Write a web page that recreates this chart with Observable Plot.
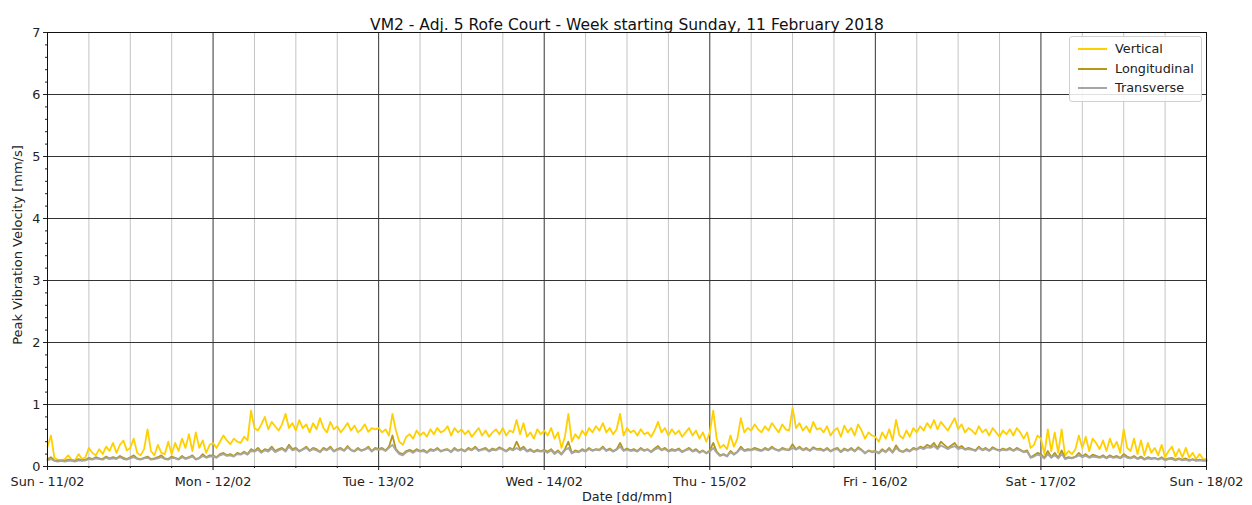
<!DOCTYPE html>
<html><head><meta charset="utf-8">
<script src="https://cdn.jsdelivr.net/npm/d3@7"></script>
<script src="https://cdn.jsdelivr.net/npm/@observablehq/plot@0.6"></script>
<style>
body{margin:0;background:#fff;font-family:"DejaVu Sans",sans-serif}
#wrap{position:relative;width:1252px;height:505px;overflow:hidden}
#legend{position:absolute;left:1069px;top:36px;width:131px;height:64px;border:1px solid #d0d0d0;border-radius:3px;background:rgba(255,255,255,0.85);font-size:12.8px;color:#222}
#legend .row{position:absolute;left:0;height:18px;line-height:18px;white-space:nowrap}
#legend .sw{position:absolute;left:8px;top:8px;width:29px;height:0;border-top-style:solid}
#legend .lb{position:absolute;left:45px;top:0}
#ylab{position:absolute;left:17px;top:245px;transform:translate(-50%,-50%) rotate(-90deg);font-size:13px;white-space:nowrap;color:#222}
</style></head><body><div id="wrap"></div>
<script>
const title = "VM2 - Adj. 5 Rofe Court - Week starting Sunday, 11 February 2018";
const xLabel = "Date [dd/mm]";
const yLabel = "Peak Vibration Velocity [mm/s]";
const seriesNames = ["Vertical", "Longitudinal", "Transverse"];
const seriesColors = ["#ffd000", "#b3981a", "#a6a6a6"];
const dayLabels = ["Sun - 11/02","Mon - 12/02","Tue - 13/02","Wed - 14/02","Thu - 15/02","Fri - 16/02","Sat - 17/02","Sun - 18/02"];
const yTicks = [0,1,2,3,4,5,6,7];
const startUTC = Date.UTC(2018, 1, 11);
const stepMinutes = 30;

// Vertical, 30-min samples from Sun 11/02 00:00 to Sun 18/02 00:00
const vertical = [
// Sun
0.32,0.50,0.14,0.11, 0.10,0.12,0.18,0.11, 0.10,0.20,0.12,0.15, 0.30,0.22,0.18,0.28, 0.20,0.32,0.25,0.38, 0.22,0.35,0.42,0.26,
0.30,0.45,0.22,0.18, 0.28,0.60,0.25,0.18, 0.35,0.22,0.20,0.40, 0.20,0.38,0.25,0.45, 0.30,0.52,0.25,0.55, 0.30,0.42,0.22,0.35,
// Mon
0.38,0.30,0.40,0.50, 0.42,0.36,0.45,0.40, 0.38,0.48,0.42,0.90, 0.62,0.58,0.68,0.80, 0.60,0.72,0.65,0.58, 0.68,0.85,0.62,0.70,
0.58,0.75,0.62,0.68, 0.55,0.70,0.60,0.78, 0.62,0.55,0.72,0.60, 0.65,0.55,0.62,0.70, 0.58,0.66,0.55,0.60, 0.68,0.56,0.62,0.60,
// Tue
0.62,0.55,0.60,0.50, 0.85,0.58,0.40,0.35, 0.48,0.52,0.45,0.58, 0.50,0.55,0.48,0.60, 0.52,0.62,0.55,0.58, 0.65,0.50,0.62,0.55,
0.60,0.52,0.58,0.48, 0.55,0.62,0.50,0.58, 0.48,0.55,0.60,0.52, 0.62,0.50,0.58,0.55, 0.75,0.52,0.70,0.48, 0.55,0.45,0.60,0.52,
// Wed
0.58,0.50,0.62,0.45, 0.55,0.30,0.48,0.85, 0.40,0.52,0.45,0.58, 0.50,0.62,0.55,0.65, 0.58,0.70,0.55,0.62, 0.52,0.60,0.85,0.50,
0.62,0.55,0.58,0.50, 0.60,0.52,0.55,0.48, 0.58,0.72,0.55,0.62, 0.50,0.60,0.52,0.58, 0.48,0.55,0.62,0.50, 0.58,0.45,0.55,0.40,
// Thu
0.55,0.90,0.45,0.30, 0.35,0.28,0.50,0.32, 0.45,0.78,0.55,0.62, 0.58,0.68,0.60,0.55, 0.65,0.58,0.70,0.62, 0.55,0.68,0.60,0.58,
0.95,0.62,0.70,0.58, 0.65,0.55,0.72,0.60, 0.62,0.55,0.65,0.50, 0.58,0.62,0.48,0.66, 0.55,0.62,0.50,0.68, 0.58,0.45,0.55,0.50,
// Fri
0.48,0.40,0.55,0.45, 0.60,0.42,0.75,0.50, 0.45,0.58,0.48,0.62, 0.55,0.65,0.58,0.70, 0.62,0.75,0.60,0.72, 0.65,0.58,0.68,0.78,
0.60,0.68,0.55,0.62, 0.58,0.52,0.65,0.55, 0.60,0.50,0.62,0.55, 0.48,0.58,0.52,0.60, 0.50,0.62,0.55,0.45, 0.55,0.30,0.35,0.50,
// Sat
0.45,0.20,0.60,0.25, 0.55,0.22,0.60,0.18, 0.25,0.20,0.28,0.50, 0.30,0.48,0.25,0.45, 0.38,0.28,0.42,0.25, 0.45,0.30,0.40,0.22,
0.60,0.30,0.25,0.45, 0.20,0.42,0.18,0.38, 0.22,0.30,0.18,0.35, 0.15,0.25,0.32,0.16, 0.28,0.15,0.30,0.14, 0.22,0.12,0.20,0.12,
0.12
];

const longitudinal = [
0.12,0.15,0.10,0.09, 0.10,0.09,0.11,0.10, 0.09,0.12,0.10,0.11, 0.14,0.12,0.15,0.13, 0.12,0.16,0.13,0.15, 0.13,0.17,0.14,0.12,
0.15,0.18,0.13,0.12, 0.14,0.16,0.12,0.13, 0.15,0.18,0.13,0.12, 0.16,0.14,0.12,0.17, 0.13,0.15,0.18,0.12, 0.14,0.20,0.15,0.18,
0.18,0.15,0.20,0.22, 0.18,0.20,0.17,0.22, 0.20,0.24,0.20,0.28, 0.25,0.30,0.24,0.28, 0.26,0.32,0.25,0.28, 0.30,0.26,0.35,0.28,
0.30,0.25,0.28,0.32, 0.26,0.30,0.28,0.24, 0.30,0.27,0.32,0.25, 0.28,0.30,0.26,0.33, 0.27,0.25,0.30,0.26, 0.28,0.32,0.25,0.30,
0.28,0.30,0.26,0.32, 0.50,0.28,0.22,0.20, 0.25,0.27,0.24,0.28, 0.25,0.27,0.23,0.28, 0.26,0.30,0.25,0.27, 0.28,0.24,0.30,0.26,
0.28,0.25,0.30,0.27, 0.32,0.26,0.28,0.30, 0.25,0.29,0.27,0.31, 0.28,0.25,0.30,0.27, 0.40,0.28,0.32,0.25, 0.28,0.24,0.27,0.25,
0.27,0.24,0.28,0.22, 0.26,0.20,0.28,0.40, 0.22,0.26,0.24,0.28, 0.25,0.30,0.26,0.28, 0.27,0.32,0.26,0.29, 0.25,0.28,0.38,0.26,
0.29,0.26,0.28,0.25, 0.30,0.26,0.28,0.24, 0.29,0.33,0.27,0.30, 0.25,0.28,0.26,0.29, 0.24,0.27,0.30,0.25, 0.28,0.23,0.26,0.22,
0.26,0.38,0.24,0.18, 0.20,0.17,0.25,0.20, 0.24,0.32,0.26,0.28, 0.27,0.30,0.28,0.26, 0.30,0.27,0.32,0.28, 0.26,0.30,0.28,0.27,
0.36,0.28,0.32,0.27, 0.30,0.26,0.31,0.28, 0.29,0.26,0.30,0.25, 0.28,0.30,0.24,0.29, 0.26,0.30,0.25,0.31, 0.27,0.22,0.26,0.24,
0.25,0.22,0.28,0.24, 0.30,0.23,0.34,0.26, 0.24,0.28,0.25,0.30, 0.28,0.32,0.30,0.35, 0.32,0.38,0.30,0.40, 0.35,0.30,0.34,0.38,
0.30,0.33,0.28,0.30, 0.28,0.26,0.32,0.27, 0.30,0.26,0.31,0.28, 0.26,0.29,0.27,0.30, 0.26,0.30,0.27,0.24, 0.26,0.15,0.18,0.22,
0.20,0.14,0.25,0.15, 0.22,0.14,0.26,0.13, 0.15,0.14,0.16,0.22, 0.16,0.20,0.15,0.19, 0.17,0.15,0.18,0.14, 0.18,0.15,0.17,0.14,
0.20,0.16,0.14,0.17, 0.13,0.16,0.12,0.15, 0.13,0.14,0.12,0.15, 0.11,0.13,0.14,0.11, 0.13,0.11,0.13,0.10, 0.12,0.10,0.11,0.10,
0.10
];

const transverse = [
0.10,0.12,0.09,0.08, 0.09,0.08,0.09,0.09, 0.08,0.10,0.09,0.10, 0.12,0.11,0.13,0.12, 0.11,0.14,0.12,0.13, 0.12,0.15,0.12,0.11,
0.13,0.15,0.12,0.11, 0.13,0.14,0.11,0.12, 0.13,0.15,0.12,0.11, 0.14,0.13,0.11,0.15, 0.12,0.14,0.16,0.11, 0.13,0.17,0.14,0.16,
0.16,0.14,0.18,0.20, 0.17,0.18,0.16,0.20, 0.19,0.22,0.19,0.25, 0.24,0.27,0.22,0.26, 0.24,0.29,0.23,0.26, 0.28,0.24,0.32,0.26,
0.28,0.24,0.27,0.30, 0.25,0.28,0.26,0.23, 0.28,0.26,0.30,0.24, 0.27,0.28,0.25,0.31, 0.26,0.24,0.28,0.25, 0.27,0.30,0.24,0.28,
0.27,0.28,0.25,0.30, 0.35,0.26,0.20,0.18, 0.23,0.25,0.22,0.26, 0.24,0.25,0.22,0.26, 0.25,0.28,0.24,0.26, 0.27,0.23,0.28,0.25,
0.27,0.24,0.28,0.26, 0.30,0.25,0.27,0.28, 0.24,0.27,0.26,0.29, 0.27,0.24,0.28,0.26, 0.30,0.26,0.29,0.24, 0.26,0.23,0.25,0.24,
0.25,0.22,0.26,0.20, 0.24,0.19,0.26,0.30, 0.21,0.24,0.23,0.26, 0.24,0.28,0.25,0.27, 0.26,0.30,0.25,0.27, 0.24,0.27,0.32,0.25,
0.27,0.25,0.26,0.24, 0.28,0.25,0.27,0.23, 0.27,0.30,0.26,0.28, 0.24,0.26,0.25,0.27, 0.23,0.26,0.28,0.24, 0.26,0.22,0.25,0.21,
0.24,0.30,0.22,0.17, 0.19,0.16,0.23,0.19, 0.23,0.29,0.25,0.26, 0.26,0.28,0.26,0.25, 0.28,0.26,0.30,0.27, 0.25,0.28,0.27,0.26,
0.30,0.27,0.30,0.26, 0.28,0.25,0.29,0.27, 0.27,0.25,0.28,0.24, 0.27,0.28,0.23,0.27, 0.25,0.28,0.24,0.29, 0.26,0.21,0.25,0.23,
0.24,0.21,0.26,0.23, 0.28,0.22,0.30,0.25, 0.23,0.26,0.24,0.28, 0.27,0.30,0.28,0.31, 0.30,0.33,0.28,0.34, 0.31,0.28,0.31,0.33,
0.28,0.30,0.27,0.28, 0.27,0.25,0.30,0.26, 0.28,0.25,0.29,0.27, 0.25,0.27,0.26,0.28, 0.25,0.28,0.26,0.23, 0.24,0.14,0.16,0.19,
0.17,0.13,0.20,0.14, 0.18,0.13,0.20,0.12, 0.14,0.13,0.15,0.18, 0.15,0.17,0.14,0.16, 0.15,0.14,0.16,0.13, 0.16,0.14,0.15,0.13,
0.17,0.14,0.13,0.15, 0.12,0.14,0.11,0.13, 0.12,0.13,0.11,0.13, 0.10,0.12,0.12,0.10, 0.12,0.10,0.11,0.09, 0.11,0.09,0.10,0.09,
0.09
];

const seriesValues = [vertical, longitudinal, transverse];
const rows = [];
seriesValues.forEach((vals, s) => vals.forEach((v, i) => rows.push({series: seriesNames[s], t: new Date(startUTC + i*stepMinutes*60000), v})));

const dayTicks = dayLabels.map((_, i) => new Date(startUTC + i*86400000));
const minorX = [];
for (let d = 0; d < 7; d++) for (const h of [6,12,18]) minorX.push(new Date(startUTC + d*86400000 + h*3600000));
const minorY = [];
for (let k = 0; k < 35; k++) if (k % 5) minorY.push(k/5);

const plot = Plot.plot({
  width: 1252, height: 505,
  marginLeft: 47, marginRight: 46, marginTop: 32, marginBottom: 39,
  style: {fontFamily: "DejaVu Sans, sans-serif", fontSize: "12.8px", color: "#222", background: "#fff"},
  x: {type: "utc", domain: [dayTicks[0], dayTicks[7]]},
  y: {domain: [0, 7]},
  color: {domain: seriesNames, range: seriesColors},
  marks: [
    Plot.gridX(minorX, {stroke: "#c4c4c4", strokeOpacity: 1, strokeWidth: 1}),
    Plot.gridX(dayTicks.slice(1, 7), {stroke: "#333", strokeOpacity: 1, strokeWidth: 1}),
    Plot.gridY(yTicks.slice(1, 7), {stroke: "#333", strokeOpacity: 1, strokeWidth: 1}),
    Plot.lineY(rows, {x: "t", y: "v", z: "series", stroke: "series", strokeWidth: 1.8, curve: "linear"}),
    Plot.frame({stroke: "#111", strokeWidth: 1}),
    Plot.axisX(dayTicks, {tickFormat: (d, i) => dayLabels[i], tickSize: 4, tickPadding: 6, label: null}),
    Plot.axisX(minorX, {tickFormat: () => "", tickSize: 2, label: null}),
    Plot.axisY(yTicks, {tickFormat: d => String(d), tickSize: 4, tickPadding: 3, label: null}),
    Plot.axisY(minorY, {tickFormat: () => "", tickSize: 2, label: null}),
    Plot.text([title], {frameAnchor: "top", dy: -14, fontSize: 15.5, fill: "#111"}),
    Plot.text([xLabel], {frameAnchor: "bottom", dy: 34, fontSize: 12.8, fill: "#222"})
  ]
});
const wrap = document.getElementById("wrap");
wrap.appendChild(plot);

const yl = document.createElement("div");
yl.id = "ylab"; yl.textContent = yLabel; wrap.appendChild(yl);

const lg = document.createElement("div");
lg.id = "legend";
seriesNames.forEach((n, i) => {
  const r = document.createElement("div");
  r.className = "row"; r.style.top = (3 + i*19.5) + "px"; r.style.width = "131px";
  const sw = document.createElement("div");
  sw.className = "sw"; sw.style.borderTopColor = seriesColors[i]; sw.style.borderTopWidth = "2px";
  const lb = document.createElement("span");
  lb.className = "lb"; lb.textContent = n;
  r.appendChild(sw); r.appendChild(lb); lg.appendChild(r);
});
wrap.appendChild(lg);
</script></body></html>
